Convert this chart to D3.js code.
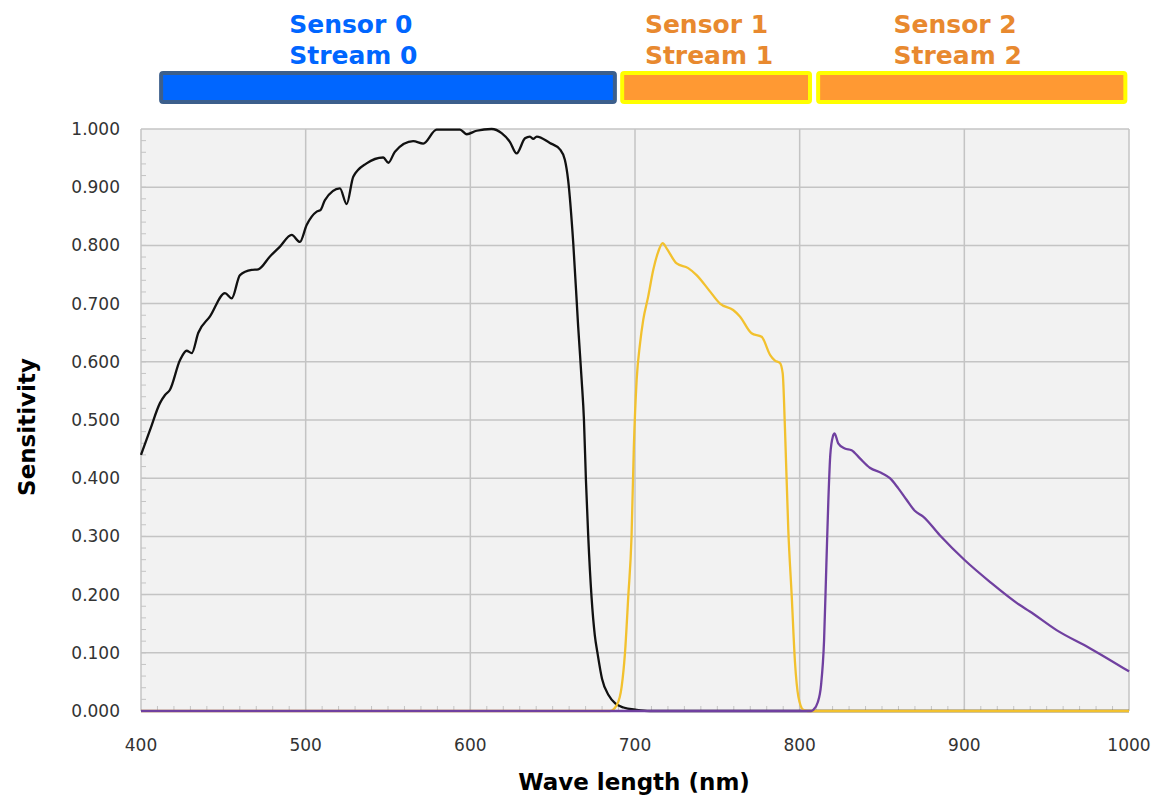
<!DOCTYPE html>
<html lang="en">
<head>
    <meta charset="UTF-8">
    <title>Sensitivity</title>
    <script src="https://cdn.jsdelivr.net/npm/d3@7"></script>
    <style>
        body { margin: 0; background: #fff; }
        svg text { font-family: "DejaVu Sans", Verdana, sans-serif; }
        .tick-label { font-size: 17px; fill: #333; }
        .axis-title { font-size: 23px; font-weight: bold; fill: #000; }
        .band-label { font-size: 25px; font-weight: bold; }
    </style>
</head>
<body>
<svg width="1157" height="803"></svg>
<script>
    // sensor 0 (black)
    var s0 = [
        [400, 0.440], [405.5, 0.483], [411.5, 0.529], [414.6, 0.543], [417.6, 0.552],
        [423.7, 0.603], [427.7, 0.619], [430.8, 0.615], [434.8, 0.650], [441.9, 0.678],
        [451, 0.718], [455.1, 0.709], [460.1, 0.749], [467.2, 0.758], [471.2, 0.759],
        [478.3, 0.781], [484.4, 0.798], [491.5, 0.818], [496.5, 0.806], [500.6, 0.835],
        [506.7, 0.858], [509.1, 0.861], [511.7, 0.878], [520.8, 0.898], [524.9, 0.871],
        [528.9, 0.918], [537, 0.941], [547.1, 0.951], [550.2, 0.942], [554.2, 0.961],
        [565.3, 0.979], [571.4, 0.975], [579.5, 0.999], [593.7, 0.999], [597.8, 0.991],
        [603.8, 0.997], [612.9, 1.000], [619, 0.993], [624, 0.978], [628.1, 0.958],
        [633.2, 0.984], [636.2, 0.987], [638.2, 0.983], [640.3, 0.987], [648.3, 0.976],
        [654.4, 0.965], [657.4, 0.947], [659.4, 0.912], [662.5, 0.804], [665.5, 0.660],
        [667.6, 0.569], [669, 0.500], [670.2, 0.397], [671.6, 0.300], [673.6, 0.196],
        [675.6, 0.130], [677.2, 0.100], [680, 0.055], [684, 0.027], [688, 0.013],
        [693, 0.006], [701, 0.002], [709, 0], [1000, 0]
    ];

    // sensor 1 (yellow)
    var s1 = [
        [400, 0], [684.8, 0], [688.9, 0.010], [691.9, 0.042], [693.9, 0.099], [695.9, 0.196],
        [697.9, 0.300], [699.3, 0.454], [701, 0.569], [703, 0.630], [705, 0.672], [708, 0.712],
        [711.1, 0.758], [714.1, 0.789], [716.8, 0.804], [719.2, 0.795], [725.3, 0.769],
        [732.3, 0.761], [737.4, 0.749], [745.5, 0.721], [751.6, 0.700], [759.6, 0.689],
        [763.7, 0.678], [770.8, 0.649], [776.9, 0.643], [782, 0.612], [785, 0.602],
        [788, 0.598], [789.7, 0.580], [791.1, 0.483], [793.1, 0.311], [795.2, 0.196],
        [797.2, 0.082], [799.2, 0.025], [802.2, 0.002], [805, 0], [1000, 0]
    ];

    // sensor 2 (purple)
    var s2 = [
        [400, 0], [807, 0], [808.3, 0.002], [811, 0.015], [813, 0.045], [814.8, 0.120],
        [816.2, 0.250], [817.4, 0.360], [818.6, 0.440], [820.2, 0.472], [821.2, 0.477],
        [823.4, 0.460], [827.4, 0.451], [831.5, 0.448],
        [836.6, 0.434], [842.6, 0.418], [849.7, 0.409], [854.8, 0.400], [859.8, 0.383],
        [864.9, 0.363], [869.9, 0.344], [875, 0.334], [885.1, 0.302], [900.3, 0.259],
        [915.5, 0.222], [933.7, 0.182], [939.8, 0.171], [956, 0.139], [976.2, 0.108],
        [1000, 0.068]
    ];

    var bandNames = [["Sensor 0", "Stream 0"], ["Sensor 1", "Stream 1"], ["Sensor 2", "Stream 2"]];
    var bandRanges = [[411, 689], [691, 807.5], [810, 999]];
    var labelStart = [490, 706, 857];

    var xTicks = [400, 500, 600, 700, 800, 900, 1000];
    var yTicks = [0, 0.1, 0.2, 0.3, 0.4, 0.5, 0.6, 0.7, 0.8, 0.9, 1.0];

    var svg = d3.select("svg"),
        pLeft = 141, pRight = 1129, pTop = 129, pBottom = 711,
        gridColor = "#c4c4c4";

    var x = d3.scaleLinear().domain([400, 1000]).range([pLeft, pRight]);
    var y = d3.scaleLinear().domain([0, 1]).range([pBottom, pTop]);

    // plot background
    svg.append("rect")
        .attr("x", pLeft).attr("y", pTop)
        .attr("width", pRight - pLeft).attr("height", pBottom - pTop)
        .attr("fill", "#f2f2f2");

    // grid
    svg.append("g").selectAll("line")
        .data(yTicks)
        .enter().append("line")
        .attr("x1", pLeft).attr("x2", pRight)
        .attr("y1", function(d) { return y(d); })
        .attr("y2", function(d) { return y(d); })
        .attr("stroke", gridColor).attr("stroke-width", 1.5);

    svg.append("g").selectAll("line")
        .data(xTicks)
        .enter().append("line")
        .attr("x1", function(d) { return x(d); })
        .attr("x2", function(d) { return x(d); })
        .attr("y1", pTop).attr("y2", pBottom)
        .attr("stroke", gridColor).attr("stroke-width", 1.5);

    // minor ticks
    svg.append("g").selectAll("line")
        .data(d3.range(0.02, 1, 0.02))
        .enter().append("line")
        .attr("x1", pLeft).attr("x2", pLeft + 5)
        .attr("y1", function(d) { return y(d); })
        .attr("y2", function(d) { return y(d); })
        .attr("stroke", gridColor).attr("stroke-width", 1);

    svg.append("g").selectAll("line")
        .data(d3.range(410, 1000, 10))
        .enter().append("line")
        .attr("x1", function(d) { return x(d); })
        .attr("x2", function(d) { return x(d); })
        .attr("y1", pBottom).attr("y2", pBottom - 5)
        .attr("stroke", gridColor).attr("stroke-width", 1);

    // tick labels
    svg.append("g").selectAll("text")
        .data(yTicks)
        .enter().append("text")
        .attr("class", "tick-label")
        .attr("x", 120)
        .attr("y", function(d) { return y(d) + 6; })
        .attr("text-anchor", "end")
        .text(d3.format(".3f"));

    svg.append("g").selectAll("text")
        .data(xTicks)
        .enter().append("text")
        .attr("class", "tick-label")
        .attr("x", function(d) { return x(d); })
        .attr("y", 751)
        .attr("text-anchor", "middle")
        .text(function(d) { return d; });

    // curves
    var line = d3.line()
        .x(function(d) { return x(d[0]); })
        .y(function(d) { return y(d[1]); })
        .curve(d3.curveMonotoneX);

    [[s0, "#111111"], [s1, "#f2c12e"], [s2, "#7040a0"]].forEach(function(s) {
        svg.append("path")
            .datum(s[0])
            .attr("d", line)
            .attr("fill", "none")
            .attr("stroke", s[1])
            .attr("stroke-width", 2.3);
    });

    // axis titles
    svg.append("text")
        .attr("class", "axis-title")
        .attr("transform", "translate(35,427) rotate(-90)")
        .attr("text-anchor", "middle")
        .text("Sensitivity");

    svg.append("text")
        .attr("class", "axis-title")
        .attr("x", 634).attr("y", 790)
        .attr("text-anchor", "middle")
        .text("Wave length (nm)");

    // sensor bands
    var bandFill = ["#0066ff", "#ff9933", "#ff9933"],
        bandStroke = ["#3c5f8c", "#ffff00", "#ffff00"],
        bandText = ["#0066ff", "#e8892f", "#e8892f"];

    bandRanges.forEach(function(r, i) {
        svg.append("rect")
            .attr("x", x(r[0]) + 2)
            .attr("y", 73)
            .attr("width", x(r[1]) - x(r[0]) - 4)
            .attr("height", 29)
            .attr("rx", 2)
            .attr("fill", bandFill[i])
            .attr("stroke", bandStroke[i])
            .attr("stroke-width", 4);

        svg.append("text")
            .attr("class", "band-label")
            .attr("x", x(labelStart[i]))
            .attr("y", 33)
            .attr("fill", bandText[i])
            .text(bandNames[i][0]);

        svg.append("text")
            .attr("class", "band-label")
            .attr("x", x(labelStart[i]))
            .attr("y", 64)
            .attr("fill", bandText[i])
            .text(bandNames[i][1]);
    });
</script>
</body>
</html>
